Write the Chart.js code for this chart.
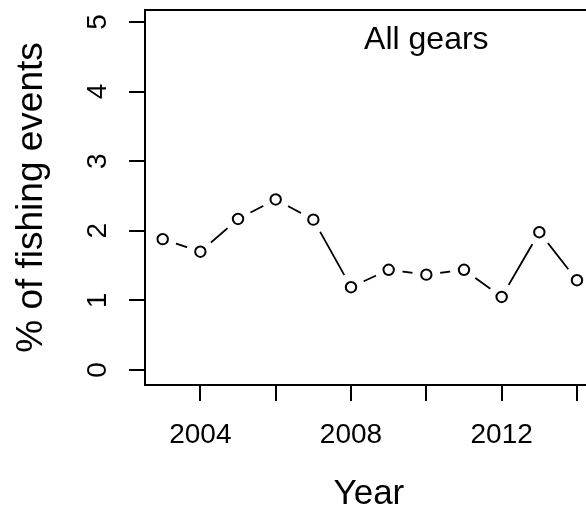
<!DOCTYPE html>
<html>
<head>
<meta charset="utf-8">
<script src="https://cdn.jsdelivr.net/npm/chart.js@4.4.1/dist/chart.umd.min.js"></script>
<style>
  html, body { margin: 0; padding: 0; background: #fff; }
  #wrap { width: 586px; height: 512px; overflow: hidden; position: relative; }
  canvas { display: block; }
</style>
</head>
<body>
<div id="wrap"><canvas id="c" width="600" height="512"></canvas></div>
<script>
// Percentage of fishing events per year, all gears combined
const years = [2003, 2004, 2005, 2006, 2007, 2008, 2009, 2010, 2011, 2012, 2013, 2014];
const pctEvents = [1.88, 1.70, 2.17, 2.45, 2.16, 1.19, 1.44, 1.37, 1.44, 1.05, 1.98, 1.29];

const xTickValues = [2004, 2006, 2008, 2010, 2012, 2014];
const xTickLabels = ['2004', '', '2008', '', '2012', ''];
const yTickValues = [0, 1, 2, 3, 4, 5];
const yTickLabels = ['0', '1', '2', '3', '4', '5'];

const panelTitle = 'All gears';
const xTitle = 'Year';
const yTitle = '% of fishing events';

const FONT = '"Liberation Sans", Arial, Helvetica, sans-serif';
const INK = '#000';
const HALO = 14;   // gap left in the line around each point

const points = years.map((yr, i) => ({ x: yr, y: pctEvents[i] }));

// Gapped line ("both" style): after the series is drawn, clear a white disc
// around every point element and redraw the element's open circle on top.
// Then add the frame, the rotated y tick labels and the panel caption.
const decorations = {
  id: 'decorations',
  afterDraw(chart) {
    const { ctx, chartArea: a, scales: { x, y } } = chart;
    const meta = chart.getDatasetMeta(0);
    ctx.save();
    ctx.fillStyle = '#fff';
    meta.data.forEach(pt => {
      ctx.beginPath();
      ctx.arc(pt.x, pt.y, HALO, 0, Math.PI * 2);
      ctx.fill();
    });
    ctx.restore();
    meta.data.forEach(pt => pt.draw(ctx, a));

    ctx.save();
    ctx.strokeStyle = INK;
    ctx.lineWidth = 2;
    ctx.strokeRect(a.left, a.top, a.right - a.left, a.bottom - a.top);

    ctx.fillStyle = INK;
    ctx.font = '28px ' + FONT;
    ctx.textAlign = 'center';
    ctx.textBaseline = 'middle';
    yTickValues.forEach((v, i) => {
      ctx.save();
      ctx.translate(98, y.getPixelForValue(v));
      ctx.rotate(-Math.PI / 2);
      ctx.fillText(yTickLabels[i], 0, 0);
      ctx.restore();
    });

    ctx.font = '32px ' + FONT;
    ctx.fillText(panelTitle, x.getPixelForValue(2010), y.getPixelForValue(4.74));
    ctx.restore();
  }
};

new Chart(document.getElementById('c'), {
  type: 'line',
  data: {
    datasets: [{
      data: points,
      showLine: true,
      borderColor: INK,
      borderWidth: 1.8,
      tension: 0,
      fill: false,
      pointStyle: 'circle',
      pointRadius: 5.2,
      pointHoverRadius: 5.2,
      pointBorderWidth: 2,
      pointBorderColor: INK,
      pointBackgroundColor: 'rgba(0,0,0,0)'
    }]
  },
  options: {
    responsive: false,
    animation: false,
    devicePixelRatio: 1,
    events: [],
    layout: { padding: { top: 10, right: 6, left: 0, bottom: 0 } },
    plugins: { legend: { display: false }, tooltip: { enabled: false } },
    scales: {
      x: {
        type: 'linear', position: 'bottom',
        min: 2002.53, max: 2014.42,
        afterBuildTicks: s => { s.ticks = xTickValues.map(v => ({ value: v })); },
        afterFit: s => { s.height = 127; },
        ticks: {
          autoSkip: false, maxRotation: 0, minRotation: 0,
          padding: 17.5, color: INK,
          font: { family: FONT, size: 28 },
          callback: v => xTickLabels[xTickValues.indexOf(v)]
        },
        grid: { drawOnChartArea: false, drawTicks: true, tickLength: 16, color: INK, lineWidth: 2 },
        border: { display: true, color: INK, width: 2 },
        title: {
          display: true, text: xTitle, color: INK,
          font: { family: FONT, size: 35, lineHeight: 1.0 },
          padding: { top: 0, bottom: 0 }
        }
      },
      y: {
        type: 'linear', position: 'left',
        min: -0.215, max: 5.172,
        afterBuildTicks: s => { s.ticks = yTickValues.map(v => ({ value: v })); },
        afterFit: s => { s.width = 145; },
        ticks: { display: false },
        grid: { drawOnChartArea: false, drawTicks: true, tickLength: 16, color: INK, lineWidth: 2 },
        border: { display: true, color: INK, width: 2 },
        title: {
          display: true, text: yTitle, color: INK,
          font: { family: FONT, size: 37 },
          padding: { top: 10, bottom: 0 }
        }
      }
    }
  },
  plugins: [decorations]
});
</script>
</body>
</html>
